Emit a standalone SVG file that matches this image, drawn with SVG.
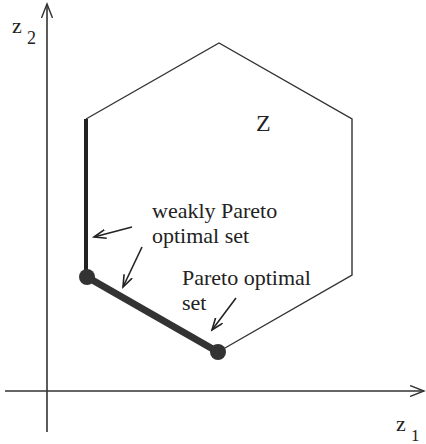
<svg xmlns="http://www.w3.org/2000/svg" width="426" height="444" viewBox="0 0 426 444">
<style>
.ax{stroke:#333;stroke-width:1.6;fill:none}
.hex{stroke:#333;stroke-width:1.4;fill:none}
.ptr{stroke:#222;stroke-width:1.6;fill:none}
text{fill:#222}
</style>
<defs>
<marker id="open" markerWidth="16" markerHeight="12" refX="14" refY="6" orient="auto" markerUnits="userSpaceOnUse">
<path d="M0,0.5 L14,6 L0,11.5" fill="none" stroke="#333" stroke-width="1.4"/>
</marker>
<marker id="ptr" markerWidth="14" markerHeight="10" refX="12" refY="5" orient="auto" markerUnits="userSpaceOnUse">
<path d="M0,0.5 L12,5 L0,9.5" fill="none" stroke="#222" stroke-width="1.6"/>
</marker>
</defs>
<g font-family="Liberation Serif, DejaVu Serif, Times New Roman, serif">
<g id="axes">
<line class="ax" x1="47" y1="432" x2="47" y2="4" marker-end="url(#open)"/>
<line class="ax" x1="5" y1="391" x2="424" y2="391" marker-end="url(#open)"/>
<text x="12" y="33" font-size="22">z</text>
<text x="27" y="44" font-size="18">2</text>
<text x="396" y="431" font-size="22">z</text>
<text x="411" y="441" font-size="17">1</text>
</g>
<g id="set-Z">
<polyline class="hex" points="86,119 219,43 352,119 352,275 218,352"/>
<text x="256" y="131" font-size="24">Z</text>
</g>
<g id="weak-pareto">
<line x1="86" y1="119" x2="86" y2="277" stroke="#222" stroke-width="4"/>
</g>
<g id="pareto">
<line x1="87" y1="277" x2="218" y2="352" stroke="#333" stroke-width="7"/>
<circle cx="87" cy="277" r="8" fill="#333"/>
<circle cx="218" cy="352" r="8" fill="#333"/>
</g>
<g id="labels">
<text x="152" y="218" font-size="22">weakly Pareto</text>
<text x="152" y="243" font-size="22">optimal set</text>
<text x="182" y="285" font-size="22">Pareto optimal</text>
<text x="182" y="310" font-size="22">set</text>
</g>
<g id="connectors">
<line class="ptr" x1="132" y1="227" x2="94" y2="237" marker-end="url(#ptr)"/>
<line class="ptr" x1="142" y1="247" x2="123" y2="287" marker-end="url(#ptr)"/>
<line class="ptr" x1="236" y1="298" x2="212" y2="330" marker-end="url(#ptr)"/>
</g>
</g>
</svg>
